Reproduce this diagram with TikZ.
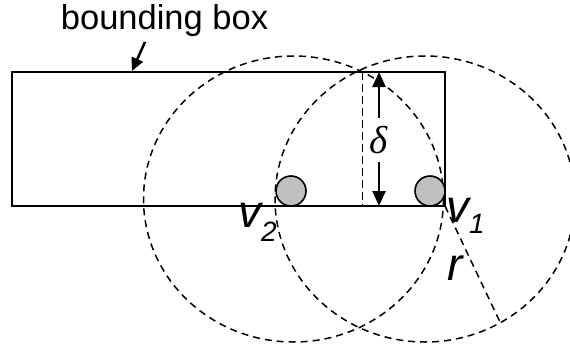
\documentclass[tikz,border=0pt]{standalone}
\usepackage{fontspec}
\setmainfont{Liberation Sans}
\newfontfamily\greekserif{Liberation Serif}
\usetikzlibrary{arrows.meta}
\definecolor{vgray}{RGB}{192,192,192}
\tikzset{
  dcircle/.style={line width=1.5pt, dash pattern=on 7pt off 5pt},
  dline/.style={line width=1.5pt, dash pattern=on 8pt off 4pt},
  boxline/.style={line width=2.2pt},
  vertex/.style={circle, draw, line width=1.6pt, fill=vgray, minimum size=30pt, inner sep=0pt},
  arr/.style={line width=2.5pt, -{Triangle[length=13pt,width=12pt]}},
  darr/.style={line width=2.5pt, {Triangle[length=15pt,width=13pt]}-{Triangle[length=15pt,width=13pt]}},
  lbl/.style={inner sep=0pt, anchor=base west, font=\fontsize{46}{50}\selectfont\itshape},
}
\begin{document}
\begin{tikzpicture}[x=1pt,y=-1pt]
\useasboundingbox (0,0) rectangle (570,345);
% rectangle corners
\coordinate (tl) at (12,72);
\coordinate (br) at (445,206);
\coordinate (bt) at (362.7,72);
\coordinate (bb) at (362.7,206);
\coordinate (at) at (379,72);
\coordinate (ab) at (379,206);
\coordinate (rend) at (500,322);
% dashed circles
\draw[dcircle] (293.5,199) ellipse [x radius=150, y radius=143];
\draw[dcircle] (425,199) ellipse [x radius=150, y radius=143];
% bounding box
\draw[boxline] (tl) rectangle (br);
% vertical dashed line
\draw[dline] (bt) -- (bb);
% delta arrow
\draw[darr] (at) -- (ab) node[pos=0.51, fill=white, inner xsep=0.5pt, minimum height=44pt] (delta) {\fontsize{39}{42}\selectfont\greekserif\itshape δ};
% vertices
\node[vertex] (v2) at (291,191) {};
\node[vertex] (v1) at (430,191) {};
% r line
\draw[dcircle] (br) -- (rend);
% labels
\node[anchor=base, inner sep=0pt, font=\fontsize{34.5}{40}\selectfont] (bbtext) at (164.5,30) {bounding box};
\coordinate (bbarrow) at (145,42);
\coordinate (bbtip) at (132,71);
\draw[arr] (bbarrow) -- (bbtip);
\node[lbl] (v2lbl) at (238,227) {v\raisebox{-14pt}{\fontsize{28}{30}\selectfont 2}};
\node[lbl] (v1lbl) at (446,222) {v\raisebox{-11pt}{\fontsize{28}{30}\selectfont 1}};
\node[lbl] (rlbl) at (447,280) {r};
\end{tikzpicture}
\end{document}
